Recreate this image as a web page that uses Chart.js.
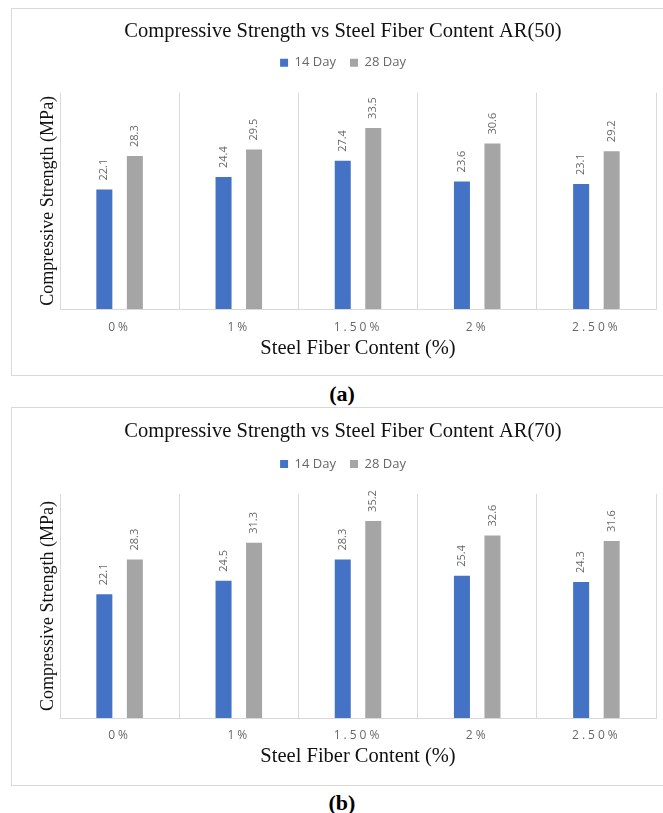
<!DOCTYPE html>
<html>
<head>
<meta charset="utf-8">
<script src="https://cdn.jsdelivr.net/npm/chart.js@4.4.1/dist/chart.umd.min.js"></script>
<style>
  html, body { margin: 0; padding: 0; background: #fff; overflow: hidden; width: 663px; height: 813px; }
  .panel { position: absolute; left: 11px; width: 690px; border: 1px solid #d9d9d9; box-sizing: border-box; background: #fff; }
  #pa { top: 8px; height: 368px; }
  #pb { top: 407px; height: 379px; }
  .panel canvas { position: absolute; left: 0; top: 0; }
  .cap { position: absolute; left: 0; width: 684px; text-align: center; font: bold 22px "Liberation Serif", "Times New Roman", serif; color: #000; line-height: 24px; }
</style>
</head>
<body>
<div class="panel" id="pa"><canvas id="chartA" width="662" height="366"></canvas></div>
<div class="cap" style="top:382px">(a)</div>
<div class="panel" id="pb"><canvas id="chartB" width="662" height="377"></canvas></div>
<div class="cap" style="top:791px">(b)</div>

<script>
// Steel fibre content categories
const categories = ['0%', '1%', '1.50%', '2%', '2.50%'];
const seriesNames = ['14 Day', '28 Day'];

// Compressive strength (MPa), aspect ratio 50
const day14AR50 = [22.1, 24.4, 27.4, 23.6, 23.1];
const day28AR50 = [28.3, 29.5, 33.5, 30.6, 29.2];

// Compressive strength (MPa), aspect ratio 70
const day14AR70 = [22.1, 24.5, 28.3, 25.4, 24.3];
const day28AR70 = [28.3, 31.3, 35.2, 32.6, 31.6];

const yMin = 0;
const yMax = 40;

const BLUE = '#4472C4';
const GREY = '#A5A5A5';
const TEXT_GREY = '#686868';
const SERIF = '"Liberation Serif", "Times New Roman", serif';
const SANS = '"Open Sans", "Liberation Sans", sans-serif';

// Rotated value labels above each bar, then letter spacing for the category ticks
const barValueLabels = {
  id: 'barValueLabels',
  afterDatasetsDraw(chart) {
    const ctx = chart.ctx;
    ctx.save();
    ctx.font = '11px ' + SANS;
    ctx.fillStyle = TEXT_GREY;
    ctx.textAlign = 'left';
    ctx.textBaseline = 'middle';
    chart.data.datasets.forEach((ds, di) => {
      const meta = chart.getDatasetMeta(di);
      meta.data.forEach((bar, i) => {
        ctx.save();
        ctx.translate(bar.x, bar.y - 9);
        ctx.rotate(-Math.PI / 2);
        ctx.fillText(ds.data[i].toFixed(1), 0, 0);
        ctx.restore();
      });
    });
    ctx.restore();
    ctx.letterSpacing = '3px';
  },
  afterDraw(chart) {
    chart.ctx.letterSpacing = '0px';
  }
};

function makeChart(canvasId, titleText, s14, s28, lay) {
  return new Chart(document.getElementById(canvasId), {
    type: 'bar',
    data: {
      labels: categories,
      datasets: [
        { label: seriesNames[0], data: s14, backgroundColor: BLUE, borderWidth: 0,
          categoryPercentage: 0.512, barPercentage: 0.525 },
        { label: seriesNames[1], data: s28, backgroundColor: GREY, borderWidth: 0,
          categoryPercentage: 0.512, barPercentage: 0.525 }
      ]
    },
    options: {
      responsive: false,
      animation: false,
      devicePixelRatio: 1,
      layout: { padding: { left: 18, right: 18, top: 0, bottom: 0 } },
      plugins: {
        title: {
          display: true,
          text: titleText,
          color: '#111',
          font: { family: SERIF, size: 20.5, weight: 'normal', lineHeight: 1 },
          padding: { top: lay.titleTop, bottom: lay.titleBottom }
        },
        subtitle: {
          display: true,
          text: '',
          weight: 500,
          font: { size: 1, lineHeight: 1 },
          padding: { top: lay.gapBelowLegend, bottom: 0 }
        },
        legend: {
          display: true,
          position: 'top',
          labels: {
            color: TEXT_GREY,
            font: { family: SANS, size: 13 },
            boxWidth: 8,
            boxHeight: 8,
            padding: 14
          }
        },
        tooltip: { enabled: false }
      },
      scales: {
        x: {
          grid: { display: true, color: '#d9d9d9', lineWidth: 1, drawTicks: false, offset: true },
          border: { display: true, color: '#d9d9d9' },
          ticks: { color: TEXT_GREY, font: { family: SANS, size: 12 }, padding: lay.tickPad, z: 1 },
          title: {
            display: true,
            text: 'Steel Fiber Content (%)',
            color: '#111',
            font: { family: SERIF, size: 20.5, lineHeight: 1.2 },
            padding: { top: 0, bottom: lay.xTitleBottom }
          },
          afterFit(scale) { scale.height = lay.xHeight; }
        },
        y: {
          min: yMin,
          max: yMax,
          grid: { display: false },
          border: { display: false },
          ticks: { display: false },
          title: {
            display: true,
            text: 'Compressive Strength (MPa)',
            color: '#111',
            font: { family: SERIF, size: 18, lineHeight: 1.2 },
            padding: { top: 7.2, bottom: 0 }
          },
          afterFit(scale) { scale.width = 30; }
        }
      }
    },
    plugins: [barValueLabels]
  });
}

makeChart('chartA', 'Compressive Strength vs Steel Fiber Content AR(50)', day14AR50, day28AR50,
  { titleTop: 12.75, titleBottom: 0, gapBelowLegend: 12.5, tickPad: 11, xTitleBottom: 14.4, xHeight: 66 });

makeChart('chartB', 'Compressive Strength vs Steel Fiber Content AR(70)', day14AR70, day28AR70,
  { titleTop: 13.75, titleBottom: 1.25, gapBelowLegend: 12.5, tickPad: 10, xTitleBottom: 15.7, xHeight: 67 });
</script>
</body>
</html>
